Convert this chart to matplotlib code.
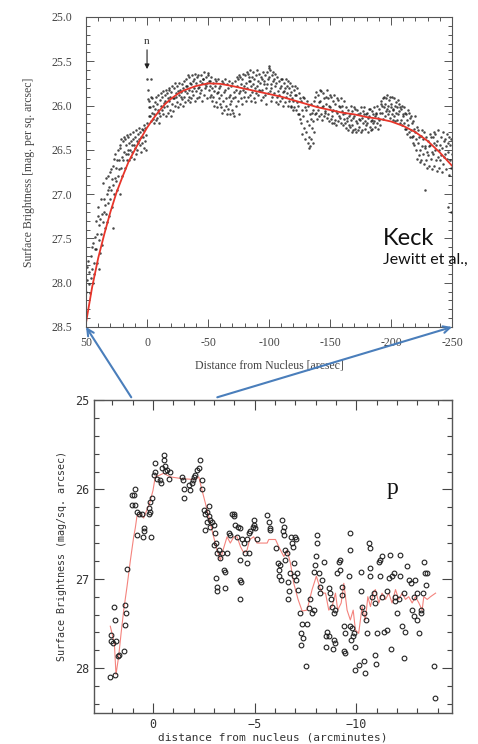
import numpy as np
import matplotlib
matplotlib.use("Agg")
import matplotlib.pyplot as plt
from matplotlib.ticker import MultipleLocator, FixedLocator, FixedFormatter, FormatStrFormatter
from matplotlib.patches import ConnectionPatch

# ---- top panel (Keck, arcsec) ----
# slit sampled every 2 arcsec, a few readings per position
top_x = np.arange(50, -250, -2)
top_y = [
    [28.1, 27.82, 27.97], [27.75, 28.02, 27.88, 28.12], [27.7, 27.95, 27.6, 27.85, 28.0],
    [27.55, 27.78, 27.9, 27.62, 27.48], [27.62, 27.3, 27.45, 27.78, 27.25],
    [27.15, 27.52, 27.35, 27.66, 27.28], [27.45, 27.05, 27.22, 27.58, 27.32],
    [26.88, 27.2, 27.05, 27.38, 27.12], [27.22, 26.82, 27.0, 27.32, 26.95],
    [26.8, 27.1, 26.92, 27.25, 26.75], [27.05, 26.72, 26.95, 26.83, 27.15],
    [26.68, 26.9, 27.0, 26.6, 26.82], [26.55, 26.85, 26.7, 26.95, 26.62],
    [26.8, 26.5, 26.62, 26.72, 26.45], [26.48, 26.7, 26.38, 26.58, 26.8],
    [26.62, 26.4, 26.52, 26.35, 26.7], [26.38, 26.55, 26.45, 26.62, 26.33],
    [26.55, 26.35, 26.5, 26.42, 26.62], [26.32, 26.5, 26.58, 26.4, 26.45],
    [26.52, 26.38, 26.3, 26.6, 26.44], [26.35, 26.48, 26.28, 26.55, 26.4],
    [26.5, 26.32, 26.42, 26.25, 26.38], [26.3, 26.45, 26.36, 26.52, 26.27],
    [26.42, 26.28, 26.35, 26.22, 26.48], [26.25, 26.4, 26.33, 26.5, 26.2],
    [25.7, 25.82, 25.93, 26.02, 26.12], [25.95, 26.12, 26.02, 26.18, 25.9],
    [26.08, 25.92, 26.15, 26.0, 26.2], [26.1, 25.96, 26.04, 25.9, 26.16],
    [25.98, 26.14, 26.05, 25.88, 26.2], [26.08, 25.94, 26.12, 26.0, 25.86],
    [25.9, 26.05, 25.84, 26.1, 25.97], [26.02, 25.88, 25.95, 26.12, 25.83],
    [25.86, 26.0, 26.08, 25.92, 25.8], [25.95, 25.82, 26.05, 25.9, 26.12],
    [25.85, 25.98, 25.78, 26.06, 25.92], [25.8, 25.92, 25.75, 26.0, 25.86],
    [25.9, 25.78, 25.96, 25.84, 26.02], [25.74, 25.88, 25.82, 25.98, 25.9],
    [25.85, 25.76, 25.93, 25.8, 26.0], [25.9, 25.72, 25.84, 25.96, 25.78],
    [25.7, 25.86, 25.78, 25.94, 25.65], [25.82, 25.68, 25.9, 25.75, 25.96],
    [25.76, 25.92, 25.66, 25.84, 25.72], [25.88, 25.7, 25.8, 25.64, 25.95],
    [25.74, 25.84, 25.68, 25.92, 25.8], [25.66, 25.79, 25.9, 25.72, 25.86],
    [25.82, 25.65, 25.75, 25.95, 25.7], [25.7, 25.88, 25.62, 25.8, 25.76],
    [25.78, 25.68, 25.92, 25.74, 25.63], [25.65, 25.82, 25.72, 25.9, 25.78],
    [25.72, 25.88, 25.68, 25.95, 25.8], [25.9, 25.75, 25.84, 26.0, 25.7],
    [25.78, 25.96, 25.72, 25.86, 26.02], [25.85, 25.7, 25.92, 25.8, 25.98],
    [25.78, 26.02, 25.88, 25.72, 26.08], [25.95, 25.75, 26.05, 25.85, 25.7],
    [25.82, 26.0, 25.92, 26.1, 25.76], [26.04, 25.8, 25.9, 25.72, 25.98],
    [25.88, 26.1, 25.78, 25.95, 26.05], [25.75, 25.92, 26.08, 25.85, 26.12],
    [25.9, 25.72, 25.82, 26.0, 25.68], [25.78, 25.95, 25.7, 25.86, 25.65],
    [25.84, 25.68, 25.92, 25.76, 25.98], [25.7, 25.82, 25.64, 25.9, 25.78],
    [25.66, 25.85, 25.75, 25.95, 25.62], [25.8, 25.64, 25.9, 25.72, 25.68],
    [25.72, 25.88, 25.6, 25.78, 25.95], [25.85, 25.68, 25.76, 25.62, 25.92],
    [25.7, 25.8, 25.96, 25.65, 25.86], [25.78, 25.6, 25.88, 25.72, 25.82],
    [25.64, 25.84, 25.74, 25.94, 25.68], [25.82, 25.7, 25.62, 25.9, 25.76],
    [25.72, 25.88, 25.66, 25.8, 25.98], [25.62, 25.76, 25.86, 25.7, 25.58],
    [25.68, 25.84, 25.6, 25.76, 25.95], [25.8, 25.66, 25.9, 25.72, 25.62],
    [25.7, 25.86, 25.78, 25.64, 25.96], [25.75, 25.9, 25.68, 25.84, 25.98],
    [25.88, 25.72, 25.8, 25.95, 25.7], [25.78, 25.92, 25.7, 25.85, 26.0],
    [25.84, 25.74, 25.96, 25.8, 25.7], [25.9, 25.78, 25.86, 26.0, 25.72],
    [25.8, 25.95, 25.74, 25.88, 26.02], [25.85, 26.0, 25.78, 25.92, 26.05],
    [25.95, 25.82, 26.02, 25.88, 25.78], [25.88, 26.05, 25.8, 25.96, 26.1],
    [26.0, 25.86, 26.1, 25.92, 26.15], [25.95, 26.2, 26.05, 26.32, 25.9],
    [26.12, 25.92, 26.25, 26.02, 26.38], [26.3, 26.05, 26.18, 25.95, 26.42],
    [26.0, 26.22, 26.35, 26.1, 26.46], [26.15, 26.38, 25.98, 26.25, 26.08],
    [26.05, 26.18, 25.95, 26.3, 26.1], [25.9, 26.08, 25.85, 26.15, 26.0],
    [26.05, 25.88, 26.12, 25.96, 25.82], [25.95, 26.1, 25.84, 26.02, 26.16],
    [25.86, 26.0, 26.12, 25.92, 26.06], [26.08, 25.9, 25.98, 25.82, 26.14],
    [25.92, 26.1, 26.0, 26.18, 25.88], [26.02, 25.9, 26.15, 26.06, 26.2],
    [26.12, 25.95, 26.05, 25.88, 26.2], [25.98, 26.16, 26.06, 26.22, 25.92],
    [26.08, 25.94, 26.18, 26.0, 26.12], [26.14, 26.02, 25.92, 26.2, 26.06],
    [26.0, 26.1, 26.22, 25.95, 26.15], [26.08, 26.2, 26.02, 26.25, 26.14],
    [26.18, 26.05, 26.28, 26.12, 26.22], [26.1, 26.24, 26.0, 26.16, 26.3],
    [26.22, 26.06, 26.14, 26.28, 26.02], [26.12, 26.26, 26.04, 26.18, 26.3],
    [26.05, 26.2, 26.1, 26.28, 26.15], [26.24, 26.08, 26.16, 26.02, 26.3],
    [26.14, 26.28, 26.06, 26.2, 26.1], [26.02, 26.18, 26.26, 26.1, 26.22],
    [26.2, 26.08, 26.3, 26.14, 26.04], [26.12, 26.24, 26.04, 26.18, 26.28],
    [26.06, 26.16, 26.26, 26.1, 26.2], [26.18, 26.02, 26.12, 26.24, 26.08],
    [26.1, 26.2, 26.0, 26.14, 26.26], [26.04, 26.16, 26.08, 26.22, 25.98],
    [25.95, 26.08, 26.0, 26.15, 25.92], [26.02, 25.9, 26.12, 25.98, 26.06],
    [25.92, 26.04, 25.88, 26.1, 26.0], [26.06, 25.94, 26.14, 25.9, 26.02],
    [25.98, 26.1, 25.9, 26.05, 26.16], [26.04, 25.92, 26.12, 26.0, 26.18],
    [25.96, 26.08, 26.02, 26.16, 25.94], [26.1, 25.98, 26.06, 26.2, 26.02],
    [26.04, 26.16, 26.0, 26.22, 26.1], [26.12, 26.02, 26.2, 26.08, 26.26],
    [26.1, 26.26, 26.16, 26.32, 26.05], [26.22, 26.08, 26.3, 26.14, 26.36],
    [26.28, 26.12, 26.36, 26.2, 26.42], [26.18, 26.34, 26.26, 26.44, 26.12],
    [26.3, 26.5, 26.38, 26.6, 26.24], [26.42, 26.28, 26.56, 26.36, 26.64],
    [26.5, 26.34, 26.62, 26.46, 26.28], [26.38, 26.55, 26.3, 26.66, 26.46],
    [26.48, 26.62, 26.36, 26.52, 26.7], [26.56, 26.4, 26.68, 26.46, 26.32],
    [26.44, 26.6, 26.36, 26.52, 26.72], [26.35, 26.55, 26.42, 26.68, 26.3],
    [26.5, 26.32, 26.62, 26.45, 26.74], [26.4, 26.58, 26.28, 26.5, 26.7],
    [26.62, 26.44, 26.36, 26.56, 26.75], [26.48, 26.3, 26.66, 26.4, 26.58],
    [26.38, 26.55, 26.46, 26.72, 26.32], [26.6, 26.42, 26.52, 26.35, 26.78],
    [26.45, 26.62, 26.38, 26.7, 26.55],
]
top_out_x = [39, 28, 22, -3, -75, -100, -133, -136, -228, -247, -249]
top_out_y = [27.85, 27.38, 27.0, 25.7, 26.1, 25.55, 26.48, 26.42, 26.95, 27.15, 27.2]

fit_x = [50, 45, 40, 35, 30, 25, 20, 15, 10, 5, 0, -5, -10, -15, -20, -25, -30, -40, -50,
         -60, -70, -80, -90, -100, -110, -120, -130, -140, -150, -160, -170, -180, -190,
         -200, -210, -220, -230, -240, -250]
fit_y = [28.45, 28.05, 27.72, 27.45, 27.2, 26.98, 26.8, 26.63, 26.5, 26.37, 26.25, 26.15,
         26.06, 25.98, 25.92, 25.87, 25.83, 25.78, 25.75, 25.755, 25.78, 25.81, 25.84, 25.87,
         25.9, 25.94, 25.98, 26.02, 26.05, 26.08, 26.1, 26.13, 26.15, 26.18, 26.23, 26.3,
         26.4, 26.53, 26.68]

top_xticks = [50, 0, -50, -100, -150, -200, -250]
top_xlabels = ["50", "0", "-50", "-100", "-150", "-200", "-250"]

# ---- bottom panel (arcminutes) ----
bot_pts = [
    (2.10, 28.10), (1.85, 28.07), (2.05, 27.63), (1.97, 27.72), (2.05, 27.70), (1.93, 27.31),
    (1.85, 27.46), (1.82, 27.70), (1.74, 27.86), (1.66, 27.85), (1.44, 27.81), (1.36, 27.29),
    (1.31, 27.38), (1.36, 27.52), (1.26, 26.89),
    (0.87, 25.99), (1.03, 26.06), (0.95, 26.06), (1.03, 26.17), (0.87, 26.17), (0.79, 26.25),
    (0.70, 26.28), (0.54, 26.28), (0.46, 26.43), (0.43, 26.47), (0.49, 26.53), (0.79, 26.51),
    (0.21, 26.21), (0.13, 26.25), (0.21, 26.28), (0.13, 26.14), (0.05, 26.10), (0.08, 26.53),
    (-0.11, 25.80), (-0.07, 25.84), (-0.20, 25.88), (-0.11, 25.71), (-0.33, 25.89), (-0.39, 25.93),
    (-0.44, 25.76), (-0.52, 25.61), (-0.52, 25.67), (-0.61, 25.74), (-0.61, 25.79), (-0.69, 25.78),
    (-0.85, 25.80), (-0.77, 25.88),
    (-1.43, 25.86), (-1.48, 25.89), (-1.51, 26.10), (-1.51, 25.99), (-1.75, 25.95), (-1.84, 26.01),
    (-1.92, 25.93), (-1.97, 25.89), (-2.0, 25.86), (-2.08, 25.84), (-2.16, 25.78), (-2.25, 25.76),
    (-2.30, 25.67), (-2.41, 25.89), (-2.41, 25.99),
    (-2.49, 26.23), (-2.57, 26.28), (-2.66, 26.25), (-2.74, 26.30), (-2.66, 26.36), (-2.82, 26.34),
    (-2.74, 26.18), (-2.79, 26.42), (-2.57, 26.45), (-2.90, 26.36), (-2.98, 26.40),
    (-3.07, 26.49), (-2.98, 26.62), (-3.11, 26.60), (-3.15, 26.71), (-3.23, 26.68), (-3.31, 26.77),
    (-3.39, 26.71), (-3.11, 26.99), (-3.15, 27.09), (-3.15, 27.14), (-3.48, 26.90), (-3.56, 26.92),
    (-3.56, 27.10), (-3.64, 26.71), (-3.72, 26.49), (-3.77, 26.51),
    (-3.89, 26.27), (-3.97, 26.28), (-3.97, 26.30), (-4.05, 26.40), (-4.16, 26.42), (-4.30, 26.43),
    (-4.13, 26.53), (-4.30, 27.01), (-4.33, 27.03), (-4.30, 27.22), (-4.26, 26.79),
    (-4.38, 26.56), (-4.46, 26.60), (-4.54, 26.71), (-4.62, 26.56), (-4.70, 26.71), (-4.62, 26.82),
    (-4.70, 26.49), (-4.79, 26.47), (-4.92, 26.42), (-4.95, 26.34), (-5.03, 26.43), (-4.98, 26.40),
    (-5.11, 26.56),
    (-5.61, 26.29), (-5.69, 26.36), (-5.74, 26.43), (-5.77, 26.45), (-6.07, 26.66), (-6.15, 26.82),
    (-6.23, 26.84), (-6.18, 26.90), (-6.18, 26.97), (-6.30, 27.01),
    (-6.34, 26.34), (-6.43, 26.42), (-6.39, 26.47), (-6.46, 26.51), (-6.51, 26.68), (-6.59, 26.71),
    (-6.51, 26.79), (-6.62, 27.03), (-6.72, 26.94), (-6.62, 27.23), (-6.69, 27.14),
    (-6.79, 26.53), (-6.84, 26.60), (-6.89, 26.64), (-7.0, 26.53), (-7.03, 26.56), (-6.92, 26.82),
    (-6.92, 26.97), (-7.03, 27.01), (-7.08, 26.94), (-7.13, 27.12),
    (-7.25, 27.38), (-7.33, 27.50), (-7.28, 27.61), (-7.38, 27.66), (-7.28, 27.74), (-7.54, 27.98),
    (-7.57, 27.50), (-7.66, 27.33), (-7.74, 27.22), (-7.82, 27.38), (-7.90, 27.35),
    (-7.90, 26.92), (-7.98, 26.84), (-8.03, 26.75), (-8.07, 26.60), (-8.07, 26.51), (-8.15, 26.94),
    (-8.23, 27.09), (-8.23, 27.16), (-8.31, 27.01), (-8.39, 26.81),
    (-8.48, 27.64), (-8.56, 27.59), (-8.52, 27.76), (-8.64, 27.64), (-8.64, 27.10), (-8.72, 27.16),
    (-8.77, 27.23), (-8.80, 27.31), (-8.89, 27.38), (-8.97, 27.35), (-8.89, 27.68), (-8.97, 27.72),
    (-8.84, 27.79),
    (-9.05, 26.94), (-9.13, 26.81), (-9.18, 26.79), (-9.21, 26.90), (-9.30, 27.18), (-9.30, 27.09),
    (-9.38, 27.53), (-9.46, 27.61), (-9.38, 27.81), (-9.46, 27.83),
    (-9.62, 26.97), (-9.67, 26.68), (-9.67, 26.49), (-9.70, 27.53), (-9.79, 27.55), (-9.74, 27.68),
    (-9.84, 27.64), (-9.87, 27.61), (-9.95, 27.76),
    (-9.95, 28.02), (-10.11, 27.96), (-10.36, 27.92), (-10.44, 28.05), (-10.20, 26.92),
    (-10.20, 27.14), (-10.28, 27.31), (-10.36, 27.38), (-10.49, 27.46), (-10.52, 27.61),
    (-10.61, 26.60), (-10.69, 26.66), (-10.69, 26.88), (-10.69, 26.97), (-10.77, 27.20),
    (-10.85, 27.16), (-10.93, 27.27), (-11.02, 27.61), (-10.93, 27.85), (-10.98, 27.95),
    (-11.10, 26.81), (-11.18, 26.79), (-11.26, 26.75), (-11.18, 26.97), (-11.26, 27.20),
    (-11.34, 27.59), (-11.51, 27.57), (-11.51, 27.14), (-11.59, 26.99),
    (-11.67, 26.73), (-11.75, 26.97), (-11.84, 26.94), (-11.70, 27.79), (-11.92, 27.20),
    (-11.92, 27.25), (-12.0, 27.38), (-12.08, 27.23), (-12.13, 26.97), (-12.16, 26.73),
    (-12.25, 27.53), (-12.33, 27.89), (-12.41, 27.59), (-12.36, 27.16), (-12.49, 26.86),
    (-12.57, 27.01), (-12.66, 27.05), (-12.74, 27.35), (-12.82, 27.20), (-12.82, 27.42),
    (-12.90, 27.01), (-12.98, 27.46), (-13.07, 27.61), (-12.98, 27.16),
    (-13.15, 27.35), (-13.18, 27.38), (-13.28, 27.16), (-13.31, 26.81), (-13.39, 26.94),
    (-13.48, 26.94), (-13.44, 27.07), (-13.80, 27.98), (-13.84, 28.33),
]
bot_x = [p[0] for p in bot_pts]
bot_y = [p[1] for p in bot_pts]

run_x = [2.10, 1.90, 1.82, 1.69, 1.57, 1.44, 1.28, 1.11, 0.95, 0.87, 0.79, 0.62, 0.46, 0.30,
         0.16, 0.0, -0.11, -0.33, -0.52, -0.85, -1.43, -2.08, -2.25, -2.41, -2.57, -2.82,
         -2.98, -3.15, -3.31, -3.44, -3.64, -3.80, -3.97, -4.13, -4.30, -4.46, -4.62, -4.75,
         -4.95, -5.11, -5.61, -5.69, -6.02, -6.18, -6.43, -6.59, -6.75, -6.92, -7.13, -7.33,
         -7.57, -7.82, -8.03, -8.20, -8.36, -8.48, -8.64, -8.80, -8.97, -9.08, -9.25, -9.38,
         -9.54, -9.70, -9.84, -9.95, -10.11, -10.28, -10.44, -10.56, -10.69, -10.82, -10.93,
         -11.10, -11.26, -11.43, -11.59, -11.75, -11.92, -12.08, -12.25, -12.41, -12.57,
         -12.74, -12.90, -13.07, -13.23, -13.31, -13.48, -13.64, -13.89]
run_y = [27.53, 27.72, 28.07, 27.87, 27.61, 27.35, 27.09, 26.79, 26.53, 26.43, 26.30, 26.27,
         26.32, 26.23, 26.15, 26.01, 25.86, 25.84, 25.82, 25.86, 25.88, 25.89, 25.86, 26.01,
         26.15, 26.38, 26.53, 26.68, 26.79, 26.68, 26.53, 26.60, 26.53, 26.53, 26.64, 26.71,
         26.68, 26.56, 26.53, 26.60, 26.60, 26.56, 26.56, 26.64, 26.75, 26.68, 26.82, 27.05,
         27.23, 27.36, 27.35, 27.12, 26.97, 27.10, 27.16, 27.16, 27.35, 27.31, 27.16, 27.35,
         27.27, 27.05, 27.35, 27.46, 27.35, 27.57, 27.61, 27.31, 27.46, 27.20, 27.31, 27.16,
         27.12, 27.27, 27.16, 27.23, 27.16, 27.27, 27.12, 27.23, 27.16, 27.23, 27.20, 27.27,
         27.20, 27.27, 27.35, 27.20, 27.23, 27.20, 27.16]

fig = plt.figure(figsize=(4.78, 7.44), dpi=100)

# ---------------- top ----------------
ax1 = fig.add_axes([0.18, 0.5605, 0.7657, 0.4167])
grey = "#555555"
for xv, col in zip(top_x, top_y):
    # readings at one position are spread a little along the slit
    xs = [xv - 0.4 * k for k in range(len(col))]
    ax1.plot(xs, col, "o", ms=1.8, color="#1a1a1a", mew=0, alpha=0.8)
ax1.plot(top_out_x, top_out_y, "o", ms=1.8, color="#1a1a1a", mew=0, alpha=0.8)
ax1.plot(fit_x, fit_y, color="#e8352a", lw=1.3)
ax1.annotate("", xy=(0, 25.62), xytext=(0, 25.34),
             arrowprops=dict(arrowstyle="-|>", color="#222222", lw=0.8, mutation_scale=7))
ax1.text(0, 25.28, "n", ha="center", va="center", fontsize=8, family="Liberation Serif", color="#333")
ax1.set_xlim(50, -250)
ax1.set_ylim(28.5, 25.0)
ax1.xaxis.set_major_locator(FixedLocator(top_xticks))
ax1.xaxis.set_major_formatter(FixedFormatter(top_xlabels))
ax1.xaxis.set_minor_locator(MultipleLocator(10))
ax1.yaxis.set_major_locator(MultipleLocator(0.5))
ax1.yaxis.set_minor_locator(MultipleLocator(0.1))
ax1.yaxis.set_major_formatter(FormatStrFormatter("%.1f"))
ax1.tick_params(which="both", direction="in", top=True, right=True, colors=grey,
                labelcolor="#444444", labelsize=8.5, width=0.7)
ax1.tick_params(which="major", length=6)
ax1.tick_params(which="minor", length=3)
ax1.tick_params(axis="x", which="major", pad=7)
ax1.tick_params(axis="y", which="major", pad=10)
for lab in ax1.get_xticklabels() + ax1.get_yticklabels():
    lab.set_family("Liberation Serif")
for s in ax1.spines.values():
    s.set_color(grey)
    s.set_linewidth(0.8)
ax1.set_xlabel("Distance from Nucleus [arcsec]", family="Liberation Serif", fontsize=8.5,
               color="#444444", labelpad=8)
ax1.set_ylabel("Surface Brightness [mag. per sq. arcsec]", family="Liberation Serif",
               fontsize=8.5, color="#444444", labelpad=12)
ax1.text(0.81, 0.265, "Keck", transform=ax1.transAxes, fontsize=17, family="Lato", color="#111")
ax1.text(0.81, 0.205, "Jewitt et al.,", transform=ax1.transAxes, fontsize=11.5, family="Lato",
         color="#111")

# ---------------- bottom ----------------
ax2 = fig.add_axes([0.1967, 0.0417, 0.749, 0.4207])
ax2.plot(run_x, run_y, color="#f4837d", lw=0.8)
ax2.plot(bot_x, bot_y, "o", ms=3.4, mfc="none", mec="#222222", mew=0.8)
ax2.set_xlim(2.9, -14.7)
ax2.set_ylim(28.5, 25)
ax2.xaxis.set_major_locator(MultipleLocator(5))
ax2.xaxis.set_minor_locator(MultipleLocator(1))
ax2.yaxis.set_major_locator(MultipleLocator(1))
ax2.yaxis.set_minor_locator(MultipleLocator(0.2))
ax2.tick_params(which="both", direction="in", top=True, right=True, colors="#444444",
                labelcolor="#333333", labelsize=8.5, width=0.8)
ax2.tick_params(which="major", length=7)
ax2.tick_params(which="minor", length=3.5)
for lab in ax2.get_xticklabels() + ax2.get_yticklabels():
    lab.set_family("DejaVu Sans Mono")
for s in ax2.spines.values():
    s.set_color("#555555")
    s.set_linewidth(1.0)
ax2.set_xlabel("distance from nucleus (arcminutes)", family="DejaVu Sans Mono", fontsize=8,
               color="#333333", labelpad=1)
ax2.set_ylabel("Surface Brightness (mag/sq. arcsec)", family="DejaVu Sans Mono", fontsize=7.2,
               color="#333333", labelpad=6)
ax2.text(-11.5, 26.05, "p", fontsize=17, family="Liberation Serif", color="#111")

# blue zoom arrows from bottom panel to top panel corners
for start, end in [((1.07, 24.97), (50, 28.5)), ((-3.16, 24.97), (-250, 28.5))]:
    con = ConnectionPatch(xyA=start, coordsA=ax2.transData, xyB=end, coordsB=ax1.transData,
                          arrowstyle="->", color="#4a7ebb", lw=1.5, mutation_scale=12,
                          clip_on=False)
    fig.add_artist(con)

fig.savefig("out.png", dpi=100)
